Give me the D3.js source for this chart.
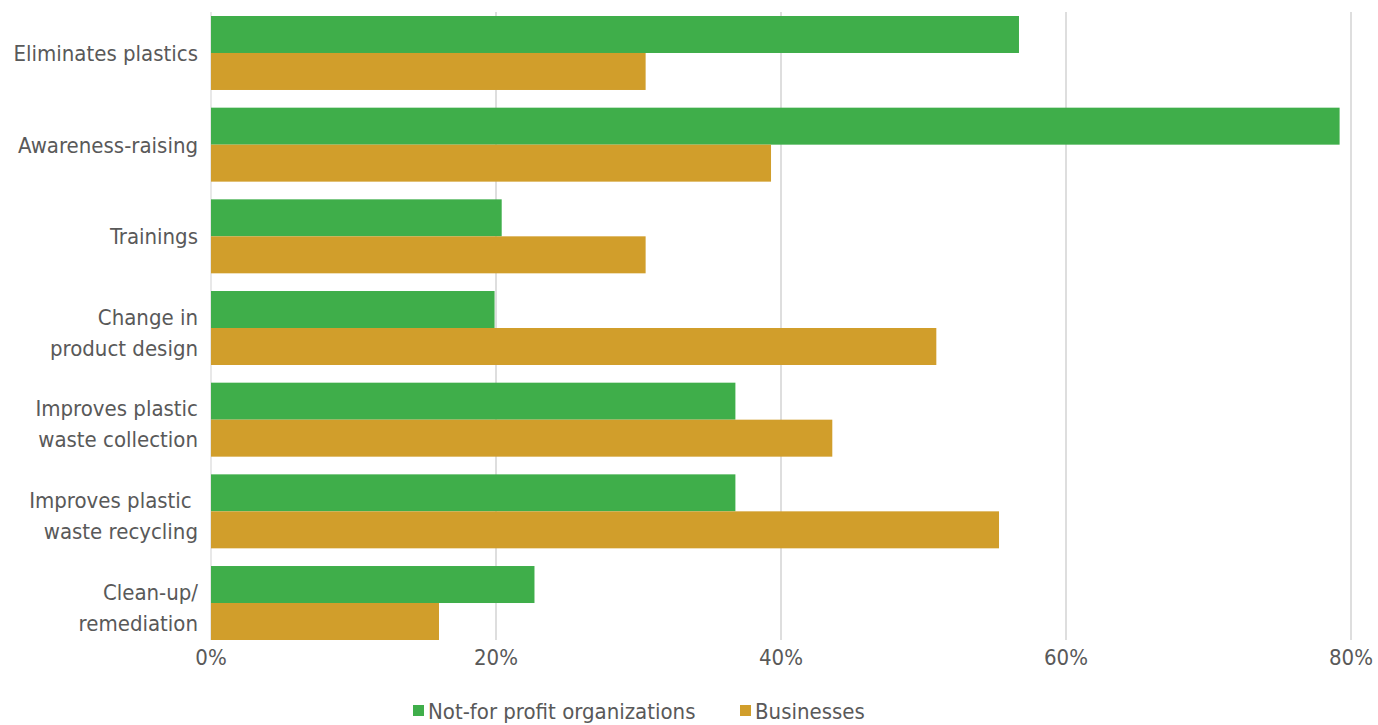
<!DOCTYPE html>
<html>
<head>
<meta charset="utf-8">
<script src="https://d3js.org/d3.v7.min.js"></script>
<style>
  body { margin: 0; background: #fff; }
  text { font-family: "Liberation Sans Narrow", "DejaVu Sans Condensed", Roboto, sans-serif; fill: #595959; }
</style>
</head>
<body>
<div id="chart"></div>
<script>
// categories (label lines) and values in percent
const categories = [
  ["Eliminates plastics"],
  ["Awareness-raising"],
  ["Trainings"],
  ["Change in", "product design"],
  ["Improves plastic", "waste collection"],
  ["Improves plastic ", "waste recycling"],
  ["Clean-up/", "remediation"]
];
const seriesNames = ["Not-for profit organizations", "Businesses"];
const notForProfit = [56.7, 79.2, 20.4, 19.9, 36.8, 36.8, 22.7];
const businesses   = [30.5, 39.3, 30.5, 50.9, 43.6, 55.3, 16.0];
const xTicks = [0, 20, 40, 60, 80];
const colors = ["#3fae4a", "#d19e2b"];

const W = 1378, H = 725;
const plotL = 211, plotR = 1351, plotT = 16, plotB = 640;

const svg = d3.select("#chart").append("svg")
  .attr("width", W).attr("height", H);

const x = d3.scaleLinear().domain([0, 80]).range([plotL, plotR]);
const keys = categories.map((c, i) => i);
const y = d3.scaleBand().domain(keys).range([plotT, plotB])
  .paddingInner(0.193).paddingOuter(0);
const ySub = d3.scaleBand().domain([0, 1]).range([0, y.bandwidth()]);

// gridlines
svg.append("g").selectAll("line")
  .data(xTicks)
  .enter().append("line")
  .attr("x1", d => x(d)).attr("x2", d => x(d))
  .attr("y1", 12).attr("y2", plotB)
  .attr("stroke", d => d === 0 ? "#d9d9d9" : "#c8c8c8")
  .attr("stroke-width", 1.2);

const series = [notForProfit, businesses];
series.forEach((vals, s) => {
  svg.append("g").selectAll("rect")
    .data(vals)
    .enter().append("rect")
    .attr("x", x(0))
    .attr("y", (d, i) => y(i) + ySub(s))
    .attr("width", d => x(d) - x(0))
    .attr("height", ySub.bandwidth())
    .attr("fill", colors[s]);
});

// category labels
const lab = svg.append("g").selectAll("text")
  .data(categories)
  .enter().append("text")
  .attr("text-anchor", "end")
  .attr("x", 198)
  .attr("y", (d, i) => y(i) + y.bandwidth() / 2)
  .style("font-size", "22px")
  .style("white-space", "pre");
lab.each(function(lines) {
  const t = d3.select(this);
  const off = lines.length > 1 ? -(lines.length - 1) * 31 / 2 + 4 : 0;
  lines.forEach((ln, j) => {
    t.append("tspan")
      .attr("x", 198)
      .attr("dy", j === 0 ? (off + 8) : 31)
      .text(ln);
  });
});

// x tick labels
svg.append("g").selectAll("text")
  .data(xTicks)
  .enter().append("text")
  .attr("x", d => x(d))
  .attr("y", 665)
  .attr("text-anchor", "middle")
  .style("font-size", "22px")
  .text(d => d + "%");

// legend
const legend = svg.append("g").attr("transform", "translate(413,711)");
const legendX = [0, 327];
seriesNames.forEach((name, i) => {
  const g = legend.append("g").attr("transform", `translate(${legendX[i]},0)`);
  g.append("rect").attr("x", 0).attr("y", -6).attr("width", 11).attr("height", 11)
    .attr("fill", colors[i]);
  g.append("text").attr("x", 15).attr("y", 8)
    .style("font-size", "22px")
    .text(name);
});
</script>
</body>
</html>
